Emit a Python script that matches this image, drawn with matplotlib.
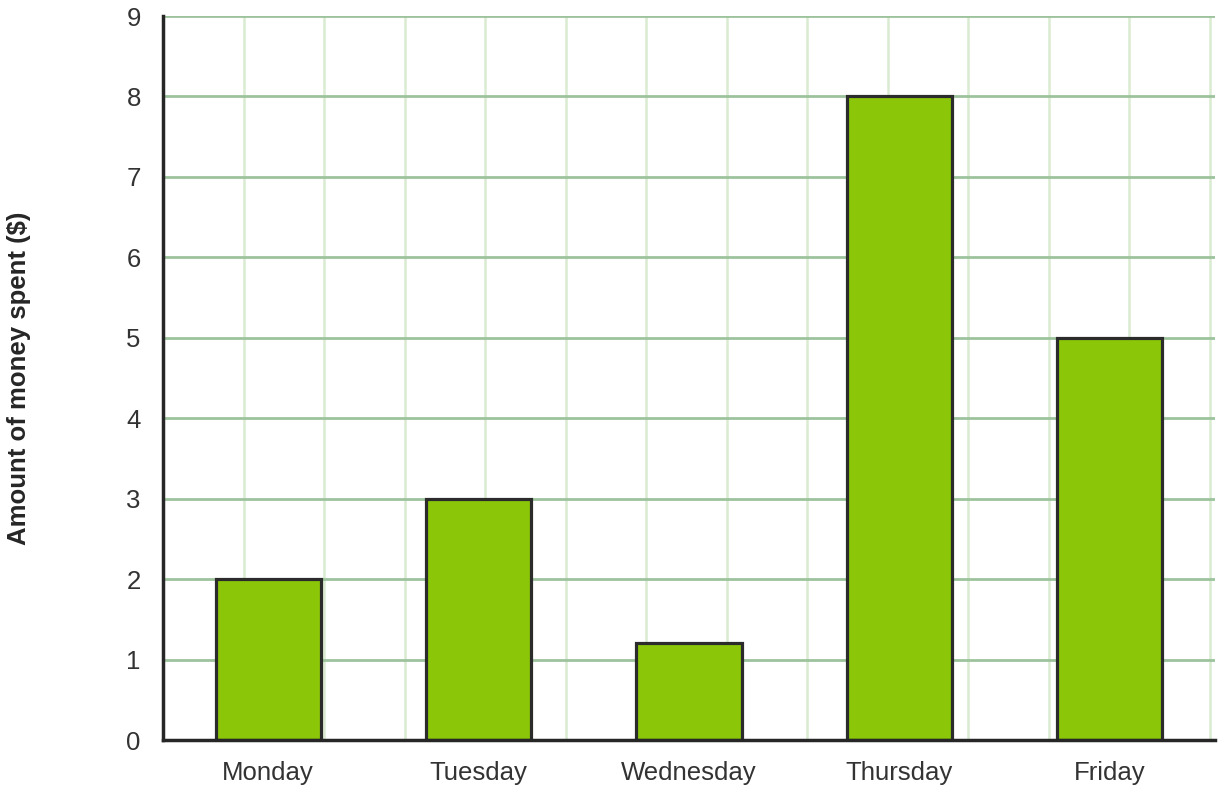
import matplotlib.pyplot as plt
import numpy as np

plt.rcParams['font.family'] = ['Liberation Sans', 'DejaVu Sans']

days = ['Monday', 'Tuesday', 'Wednesday', 'Thursday', 'Friday']
spent = [2, 3, 1.2, 8, 5]
y_ticks = list(range(0, 10))

fig = plt.figure(figsize=(12.21, 7.91), dpi=100)
ax = fig.add_axes([163 / 1221, 51 / 791, 1052 / 1221, 724 / 791])

x = np.arange(len(days))
ax.bar(x, spent, width=0.5, color='#8bc708', edgecolor='#2b2b2b', linewidth=2.3, zorder=3)

ax.set_xlim(-0.5, 4.5)
ax.set_ylim(0, 9)

# light vertical grid, darker horizontal grid
step = 80.5 / 210.4
for gx in -0.5 + step * np.arange(1, 14):
    ax.axvline(gx, color='#d9ebd0', linewidth=1.8, zorder=1)
for gy in y_ticks[1:]:
    ax.axhline(gy, color='#9dc39d', linewidth=2.0, zorder=2)

ax.set_xticks(x)
ax.set_xticklabels(days)
ax.set_yticks(y_ticks)
ax.tick_params(axis='both', length=0, labelsize=18.5, colors='#333333')
ax.tick_params(axis='x', pad=15)
ax.tick_params(axis='y', pad=16)

for s in ['top', 'right']:
    ax.spines[s].set_visible(False)
for s in ['left', 'bottom']:
    ax.spines[s].set_color('#262626')
    ax.spines[s].set_linewidth(2.5)
    ax.spines[s].set_zorder(4)

ax.set_ylabel('Amount of money spent ($)', fontsize=18.5, fontweight='bold',
              color='#262626', labelpad=0)
ax.yaxis.set_label_coords(-132 / 1052, 0.5)

fig.savefig('out.png', dpi=100)
